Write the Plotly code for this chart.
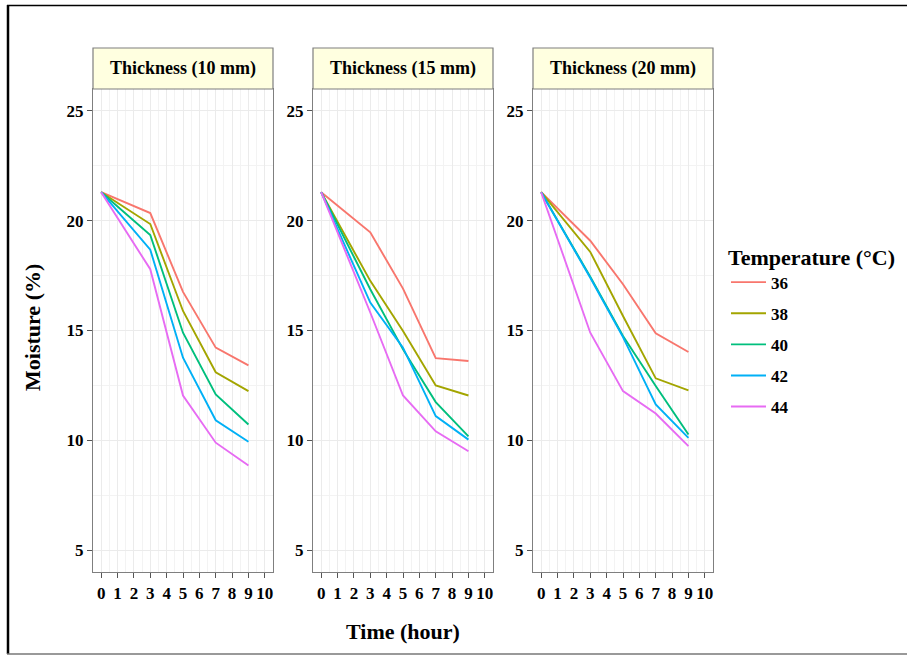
import plotly.graph_objects as go

W, H = 907, 655

time_h = [0, 3, 5, 7, 9]
temperatures = ["36", "38", "40", "42", "44"]
thickness_labels = ["Thickness (10 mm)", "Thickness (15 mm)", "Thickness (20 mm)"]
colors = ["#F8766D", "#A3A500", "#00BF7D", "#00B0F6", "#E76BF3"]

# Thickness 10 mm
m10_t36 = [21.3, 20.35, 16.76, 14.22, 13.41]
m10_t38 = [21.3, 19.85, 15.89, 13.10, 12.24]
m10_t40 = [21.3, 19.35, 14.90, 12.09, 10.72]
m10_t42 = [21.3, 18.68, 13.76, 10.91, 9.93]
m10_t44 = [21.3, 17.79, 12.04, 9.89, 8.85]
# Thickness 15 mm
m15_t36 = [21.3, 19.47, 16.91, 13.74, 13.61]
m15_t38 = [21.3, 17.26, 14.98, 12.50, 12.04]
m15_t40 = [21.3, 16.88, 14.14, 11.74, 10.18]
m15_t42 = [21.3, 16.27, 14.22, 11.10, 10.03]
m15_t44 = [21.3, 15.82, 12.04, 10.41, 9.50]
# Thickness 20 mm
m20_t36 = [21.3, 19.09, 17.11, 14.87, 14.02]
m20_t38 = [21.3, 18.58, 15.66, 12.82, 12.27]
m20_t40 = [21.3, 17.45, 14.75, 12.47, 10.26]
m20_t42 = [21.3, 17.40, 14.70, 11.63, 10.11]
m20_t44 = [21.3, 14.90, 12.24, 11.22, 9.73]

panels = [
    [m10_t36, m10_t38, m10_t40, m10_t42, m10_t44],
    [m15_t36, m15_t38, m15_t40, m15_t42, m15_t44],
    [m20_t36, m20_t38, m20_t40, m20_t42, m20_t44],
]

x_ticks = list(range(0, 11))
y_ticks = [5, 10, 15, 20, 25]

FONT = "Liberation Serif, Times New Roman, serif"

def px_x(p):
    return p / W

def px_y(p):
    return 1 - p / H

panel_left = [93, 313, 533]
panel_w = 180
plot_top, plot_bottom = 89, 572
strip_top = 48

fig = go.Figure()

for i, series in enumerate(panels):
    xa = "x" if i == 0 else f"x{i+1}"
    ya = "y" if i == 0 else f"y{i+1}"
    for j, vals in enumerate(series):
        fig.add_trace(go.Scatter(
            x=time_h, y=vals, mode="lines",
            line=dict(color=colors[j], width=1.9),
            name=temperatures[j], legendgroup=temperatures[j],
            showlegend=(i == 0), xaxis=xa, yaxis=ya,
        ))

axis_common = dict(
    showline=True, linecolor="#7F7F7F", linewidth=1.2, mirror=True,
    ticks="outside", ticklen=5, tickcolor="#555555", tickwidth=1,
    gridcolor="#EBEBEB", gridwidth=0.9, zeroline=False,
    tickfont=dict(family=FONT, size=17, color="black", weight="bold"),
)

layout = dict(
    width=W, height=H, margin=dict(l=0, r=0, t=0, b=0),
    paper_bgcolor="white", plot_bgcolor="white",
    showlegend=True,
    legend=dict(
        x=px_x(726), y=px_y(236), xanchor="left", yanchor="top",
        title=dict(text="Temperature (°C)", font=dict(family=FONT, size=22, color="black", weight="bold")),
        font=dict(family=FONT, size=17, color="black", weight="bold"),
        traceorder="grouped", tracegroupgap=6, itemwidth=35,
        bgcolor="rgba(0,0,0,0)",
    ),
)

for i in range(3):
    sx = "" if i == 0 else str(i + 1)
    layout[f"xaxis{sx}"] = dict(
        axis_common,
        domain=[px_x(panel_left[i]), px_x(panel_left[i] + panel_w)],
        range=[-0.5, 10.5], tickmode="array", tickvals=x_ticks,
        ticktext=[str(v) for v in x_ticks],
        minor=dict(dtick=0.5, tick0=0, showgrid=True, gridcolor="#F3F3F3", gridwidth=0.6, ticks=""),
        anchor="y" if i == 0 else f"y{i+1}",
    )
    layout[f"yaxis{sx}"] = dict(
        axis_common,
        domain=[px_y(plot_bottom), px_y(plot_top)],
        range=[4, 26], tickmode="array", tickvals=y_ticks,
        ticktext=[str(v) for v in y_ticks],
        minor=dict(dtick=2.5, tick0=0, showgrid=True, gridcolor="#F3F3F3", gridwidth=0.6, ticks=""),
        anchor="x" if i == 0 else f"x{i+1}",
    )

fig.update_layout(**layout)

shapes = []
annotations = []
for i in range(3):
    x0 = px_x(panel_left[i]); x1 = px_x(panel_left[i] + panel_w)
    shapes.append(dict(type="rect", xref="paper", yref="paper",
                       x0=x0, x1=x1, y0=px_y(plot_top), y1=px_y(strip_top),
                       fillcolor="#FFFFE0", line=dict(color="#7F7F7F", width=1.2), layer="above"))
    annotations.append(dict(xref="paper", yref="paper", x=(x0 + x1) / 2,
                            y=px_y((strip_top + plot_top) / 2), text=thickness_labels[i],
                            showarrow=False, xanchor="center", yanchor="middle",
                            font=dict(family=FONT, size=18, color="black", weight="bold")))

# outer frame
shapes.append(dict(type="line", xref="paper", yref="paper", x0=px_x(8), x1=px_x(8),
                   y0=px_y(654), y1=px_y(5), line=dict(color="black", width=2.5)))
shapes.append(dict(type="line", xref="paper", yref="paper", x0=px_x(7), x1=1,
                   y0=px_y(5.5), y1=px_y(5.5), line=dict(color="black", width=1.5)))
shapes.append(dict(type="line", xref="paper", yref="paper", x0=px_x(7), x1=1,
                   y0=px_y(654), y1=px_y(654), line=dict(color="#777777", width=1.5)))

annotations.append(dict(xref="paper", yref="paper", x=px_x(403), y=px_y(631),
                        text="Time (hour)", showarrow=False, xanchor="center", yanchor="middle",
                        font=dict(family=FONT, size=22, color="black", weight="bold")))
annotations.append(dict(xref="paper", yref="paper", x=px_x(32), y=px_y(328),
                        text="Moisture (%)", showarrow=False, textangle=-90,
                        xanchor="center", yanchor="middle",
                        font=dict(family=FONT, size=22, color="black", weight="bold")))

fig.update_layout(shapes=shapes, annotations=annotations)

fig.write_html("out.html", config={"displayModeBar": False},
               post_script="document.body.style.margin='0px';")
